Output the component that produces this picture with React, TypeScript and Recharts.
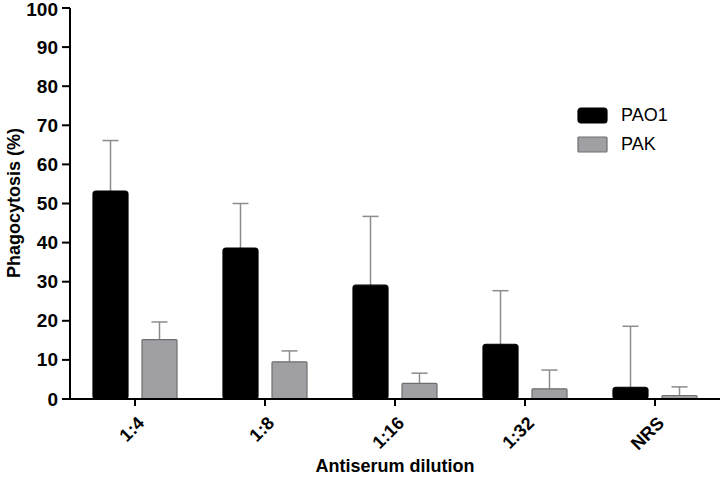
import { BarChart, Bar, XAxis, YAxis } from 'recharts'

const categories = ['1:4', '1:8', '1:16', '1:32', 'NRS']
const pao1 = [53.2, 38.6, 29.1, 14.0, 3.0]
const pao1Err = [12.9, 11.4, 17.6, 13.7, 15.6]
const pak = [15.2, 9.5, 4.0, 2.6, 0.9]
const pakErr = [4.5, 2.8, 2.6, 4.8, 2.2]
const yTicks = [0, 10, 20, 30, 40, 50, 60, 70, 80, 90, 100]
const seriesNames = ['PAO1', 'PAK']

const data = categories.map((name, i) => ({
  name,
  PAO1: pao1[i],
  PAO1Err: pao1Err[i],
  PAK: pak[i],
  PAKErr: pakErr[i],
}))

const FONT = '"Liberation Sans", Arial, sans-serif'

// bar with a one-sided (upward) error whisker
function BarWithError(props: any) {
  const { x, y, width, height, payload, fill, stroke, errKey, valKey, rx } = props
  const val = payload[valKey]
  const err = payload[errKey]
  const ppu = val ? height / val : 0
  const top = y - err * ppu
  const cx = x + width / 2
  return (
    <g>
      <line x1={cx} x2={cx} y1={y} y2={top} stroke="#8c8c8c" strokeWidth={1.5} />
      <line x1={cx - 8} x2={cx + 8} y1={top} y2={top} stroke="#8c8c8c" strokeWidth={1.5} />
      <rect x={x} y={y} width={width} height={height} rx={rx} ry={rx} fill={fill} stroke={stroke} strokeWidth={1.2} />
    </g>
  )
}

function XTick({ x, y, payload }: any) {
  return (
    <text
      x={x + 6}
      y={y + 12}
      transform={`rotate(-45, ${x + 6}, ${y + 12})`}
      textAnchor="end"
      dominantBaseline="central"
      fontFamily={FONT}
      fontWeight={700}
      fontSize={18}
      fill="#000"
    >
      {payload.value}
    </text>
  )
}

function YTick({ x, y, payload }: any) {
  // keep the top label inside the page
  const yy = Math.max(y, 9)
  return (
    <text
      x={x - 2}
      y={yy}
      textAnchor="end"
      dominantBaseline="central"
      fontFamily={FONT}
      fontWeight={700}
      fontSize={19}
      fill="#000"
    >
      {payload.value}
    </text>
  )
}

const swatches = [
  { fill: '#000', stroke: '#000', rx: 3 },
  { fill: '#a0a0a4', stroke: '#6e6e6e', rx: 1 },
]

export default function App() {
  return (
    <div style={{ position: 'absolute', left: 0, top: 0, width: 727, height: 477, background: '#fff' }}>
      <BarChart
        width={727}
        height={477}
        data={data}
        margin={{ top: 8, right: 7, bottom: 18, left: 8 }}
        barSize={35}
        barGap={14}
      >
        <XAxis
          dataKey="name"
          height={60}
          tick={<XTick />}
          tickSize={7}
          axisLine={{ stroke: '#000', strokeWidth: 2 }}
          tickLine={{ stroke: '#000', strokeWidth: 2 }}
          interval={0}
        />
        <YAxis
          width={62}
          domain={[0, 100]}
          ticks={yTicks}
          interval={0}
          tickSize={8}
          axisLine={{ stroke: '#000', strokeWidth: 2 }}
          tickLine={{ stroke: '#000', strokeWidth: 2 }}
          tick={<YTick />}
        />
        <Bar
          dataKey="PAO1"
          fill="#000"
          isAnimationActive={false}
          shape={(p: any) => <BarWithError {...p} valKey="PAO1" errKey="PAO1Err" fill="#000" stroke="#000" rx={3} />}
        />
        <Bar
          dataKey="PAK"
          fill="#a0a0a4"
          isAnimationActive={false}
          shape={(p: any) => <BarWithError {...p} valKey="PAK" errKey="PAKErr" fill="#a0a0a4" stroke="#6e6e6e" rx={1} />}
        />
      </BarChart>
      <div style={{ position: 'absolute', left: 577, top: 101, fontFamily: FONT, fontSize: 18 }}>
        {seriesNames.map((label, i) => (
          <div key={label} style={{ display: 'flex', alignItems: 'center', height: 29 }}>
            <svg width={32} height={18} style={{ marginRight: 12 }}>
              <rect x={1} y={1} width={29} height={15} rx={swatches[i].rx} fill={swatches[i].fill} stroke={swatches[i].stroke} strokeWidth={1.2} />
            </svg>
            <span>{label}</span>
          </div>
        ))}
      </div>
      <div
        style={{
          position: 'absolute',
          left: 70,
          width: 650,
          top: 456,
          textAlign: 'center',
          fontFamily: FONT,
          fontWeight: 700,
          fontSize: 18,
        }}
      >
        Antiserum dilution
      </div>
      <div
        style={{
          position: 'absolute',
          left: 14,
          top: 203,
          transform: 'translate(-50%, -50%) rotate(-90deg)',
          whiteSpace: 'nowrap',
          fontFamily: FONT,
          fontWeight: 700,
          fontSize: 18,
        }}
      >
        Phagocytosis (%)
      </div>
    </div>
  )
}
